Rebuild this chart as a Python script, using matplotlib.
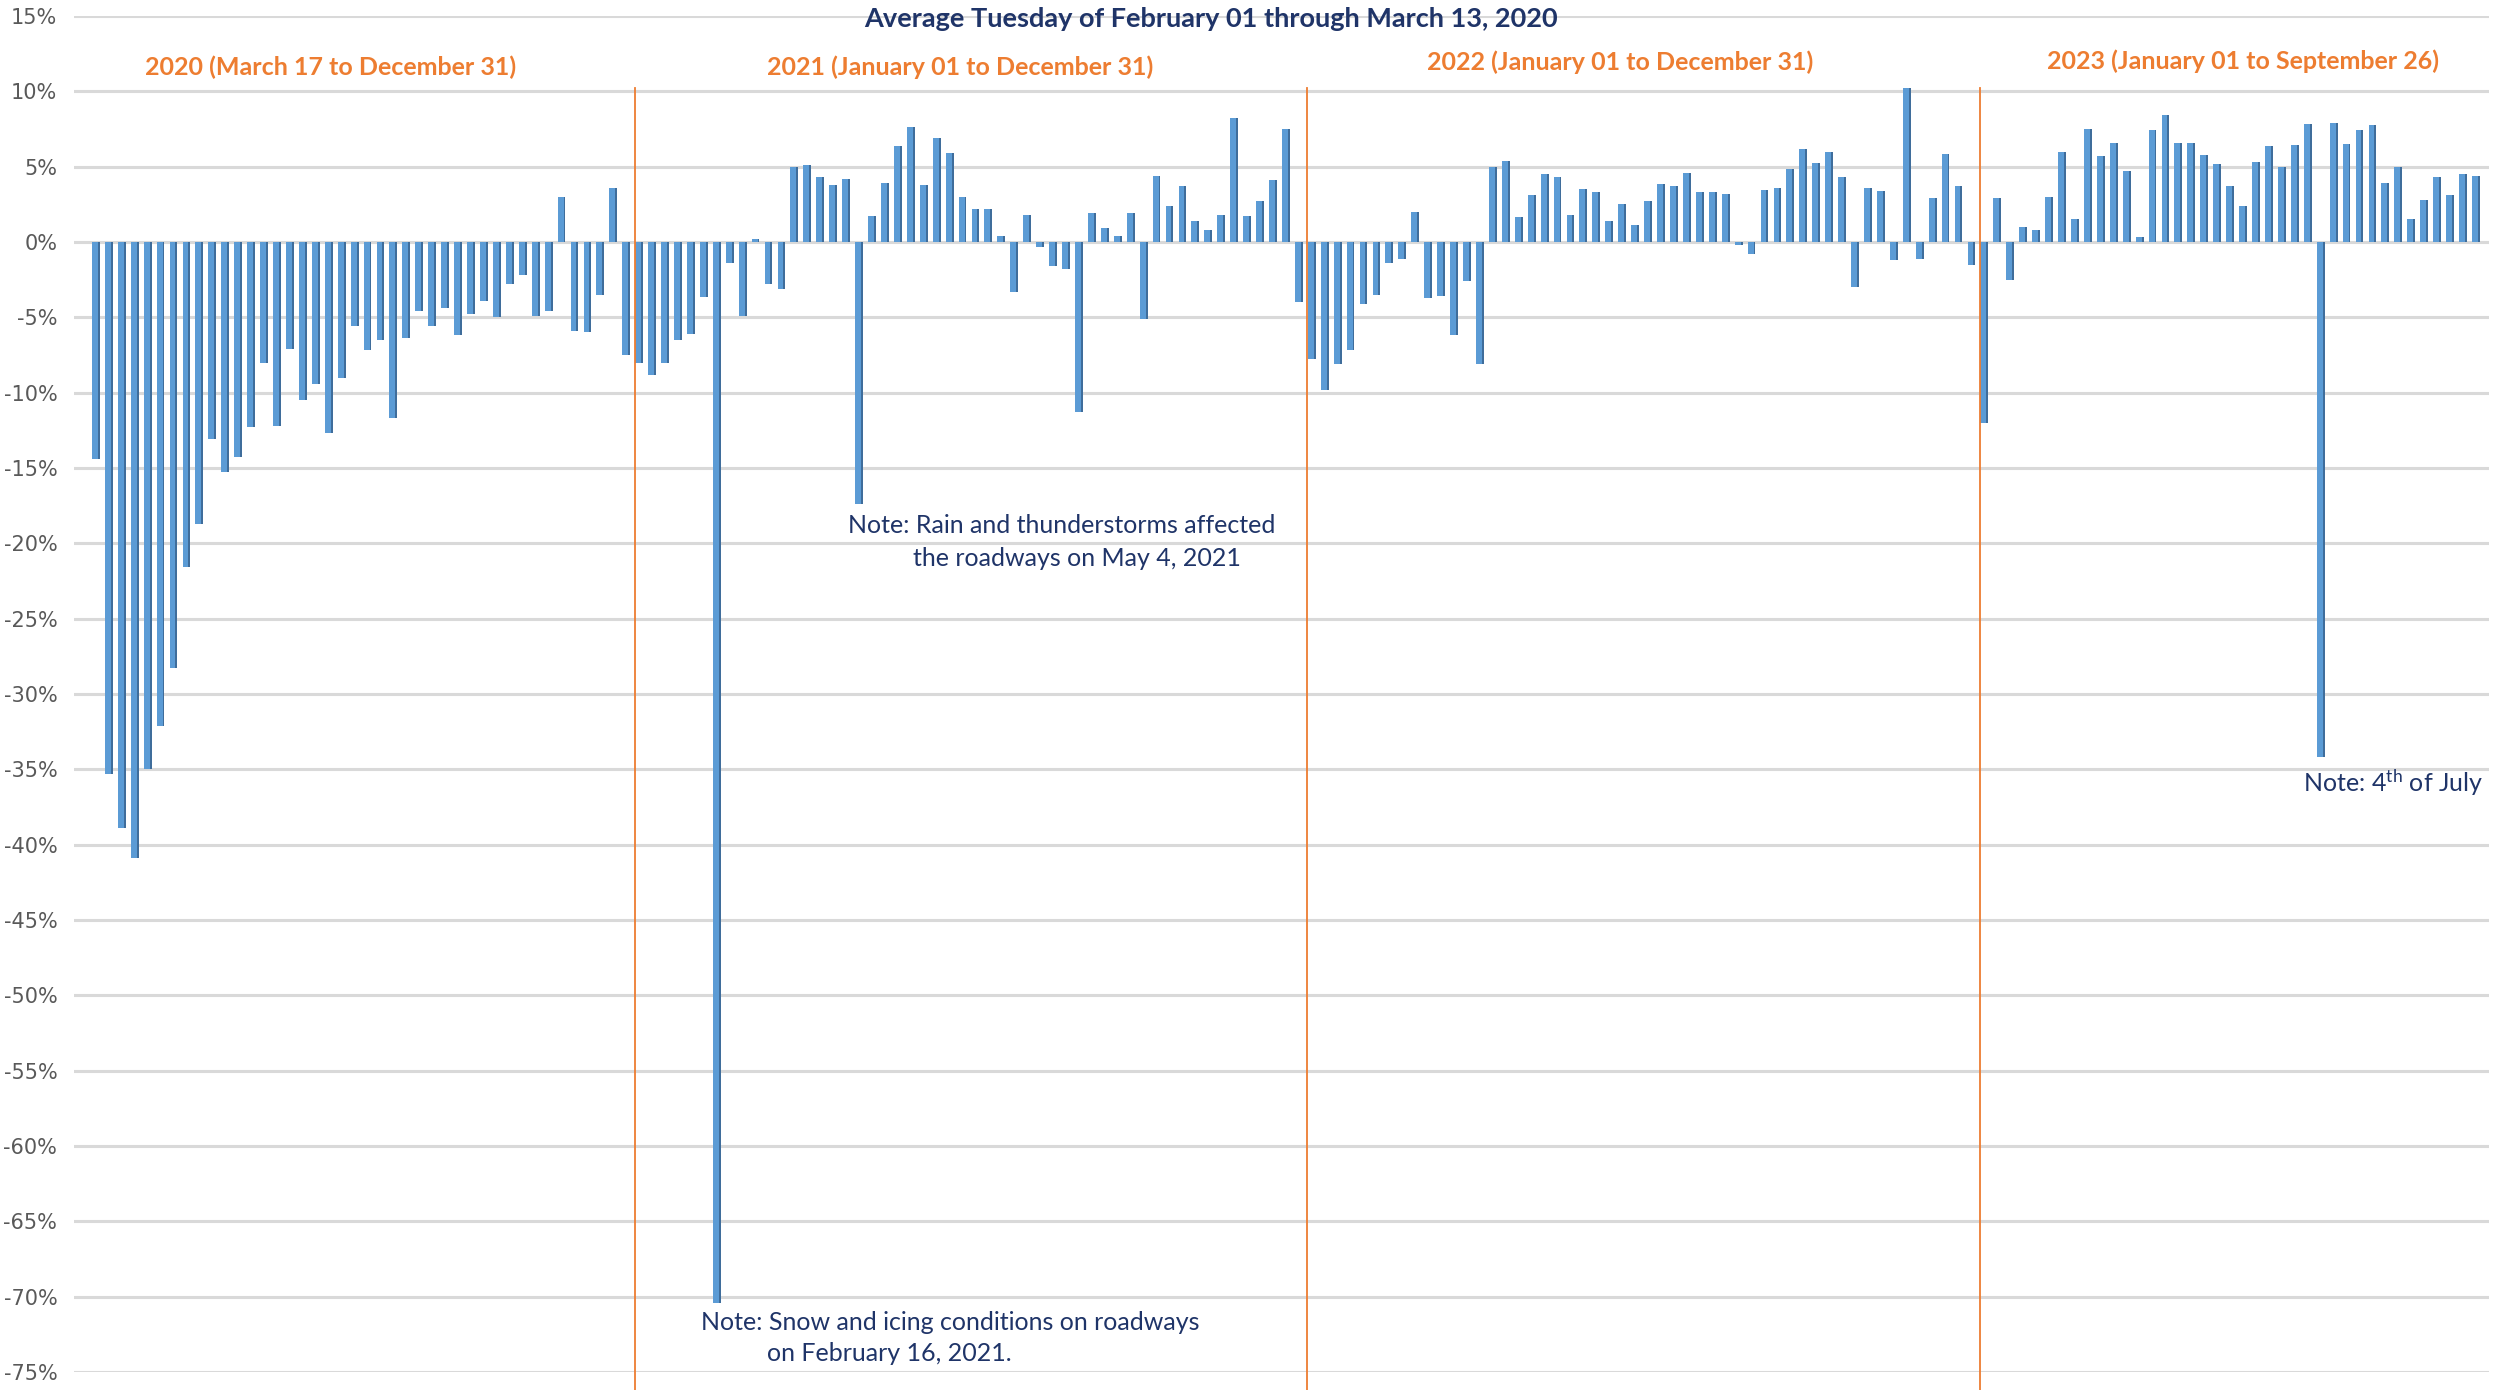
import numpy as np
import matplotlib
matplotlib.use("Agg")
import matplotlib.pyplot as plt

# weekly Tuesday change vs. average Tuesday of Feb 01 - Mar 13, 2020 (%)
vals_2020 = [-14.4, -35.3, -38.9, -40.9, -35.0, -32.1, -28.3, -21.6, -18.7, -13.1,
             -15.3, -14.3, -12.3, -8.0, -12.2, -7.1, -10.5, -9.4, -12.7, -9.0,
             -5.6, -7.2, -6.5, -11.7, -6.4, -4.6, -5.6, -4.4, -6.2, -4.8,
             -3.9, -5.0, -2.8, -2.2, -4.9, -4.6, 3.0, -5.9, -6.0, -3.5,
             3.6, -7.5]
vals_2021 = [-8.0, -8.8, -8.0, -6.5, -6.1, -3.65, -70.4, -1.4, -4.9, 0.2,
             -2.8, -3.1, 5.0, 5.1, 4.3, 3.75, 4.2, -17.4, 1.7, 3.9,
             6.4, 7.6, 3.75, 6.9, 5.9, 3.0, 2.2, 2.2, 0.4, -3.3,
             1.8, -0.35, -1.6, -1.8, -11.3, 1.9, 0.9, 0.4, 1.9, -5.1,
             4.4, 2.4, 3.7, 1.4, 0.8, 1.8, 8.2, 1.7, 2.7, 4.1,
             7.5, -4.0]
vals_2022 = [-7.8, -9.8, -8.1, -7.2, -4.1, -3.5, -1.4, -1.1, 2.0, -3.7,
             -3.6, -6.2, -2.6, -8.1, 5.0, 5.4, 1.65, 3.1, 4.5, 4.3,
             1.8, 3.5, 3.3, 1.4, 2.5, 1.1, 2.75, 3.85, 3.7, 4.6,
             3.35, 3.3, 3.2, -0.2, -0.8, 3.45, 3.6, 4.85, 6.2, 5.25,
             6.0, 4.3, -3.0, 3.6, 3.4, -1.2, 10.2, -1.15, 2.9, 5.85,
             3.7, -1.5]
vals_2023 = [-12.0, 2.9, -2.5, 1.0, 0.8, 3.0, 6.0, 1.5, 7.5, 5.7,
             6.6, 4.7, 0.3, 7.4, 8.4, 6.6, 6.6, 5.8, 5.2, 3.7,
             2.4, 5.3, 6.4, 5.0, 6.45, 7.8, -34.2, 7.9, 6.5, 7.4,
             7.75, 3.9, 5.0, 1.5, 2.8, 4.3, 3.1, 4.5, 4.4]

year_labels = ["2020 (March 17 to December 31)",
               "2021 (January 01 to December 31)",
               "2022 (January 01 to December 31)",
               "2023 (January 01 to September 26)"]
yticks = list(range(-75, 16, 5))

title = "Average Tuesday of February 01 through March 13, 2020"

NAVY = "#1F3468"
ORANGE = "#ED7D31"

values = np.array(vals_2020 + vals_2021 + vals_2022 + vals_2023)
x = np.arange(len(values))
starts = np.cumsum([0, len(vals_2020), len(vals_2021), len(vals_2022)])

fig = plt.figure(figsize=(25.09, 13.90), dpi=100)
ax = fig.add_axes([0.0295, 0.013, 0.9625, 0.9755])

# pseudo 3D column: light front face + darker side strip
ax.bar(x - 0.08, values, width=0.46, color="#5B9BD5", zorder=3)
ax.bar(x + 0.22, values, width=0.15, color="#3F6D9B", zorder=3)

ax.set_xlim(-1.7, 185.0)
ax.set_ylim(-75, 15)
ax.set_yticks(yticks)
ax.set_yticklabels([f"{t}%" for t in yticks], fontsize=15, color="#595959",
                   family="DejaVu Sans")
ax.tick_params(axis="y", length=0, pad=12)
ax.set_xticks([])
ax.grid(axis="y", color="#D9D9D9", linewidth=2.2, zorder=0)
for s in ax.spines.values():
    s.set_visible(False)

# year separators
for s in starts[1:]:
    ax.plot([s - 0.35, s - 0.35], [10.2, -76.5], color=ORANGE, linewidth=1.3,
            clip_on=False, zorder=4)

label_x = [18.1, 66.8, 117.8, 166.0]
label_y = [11.6, 11.6, 11.95, 12.0]
for lx, ly, txt in zip(label_x, label_y, year_labels):
    ax.text(lx, ly, txt, ha="center", va="center", color=ORANGE,
            fontsize=18, fontweight="bold", family="Lato")

ax.text(86.2, 14.8, title, ha="center", va="center", color=NAVY,
        fontsize=19.5, fontweight="bold", family="Lato")

note_kw = dict(color=NAVY, fontsize=18, family="Lato", va="center", ha="left")
ax.text(58.1, -18.8, "Note: Rain and thunderstorms affected", **note_kw)
ax.text(63.2, -21.0, "the roadways on May 4, 2021", **note_kw)
ax.text(46.8, -71.7, "Note: Snow and icing conditions on roadways", **note_kw)
ax.text(51.9, -73.8, "on February 16, 2021.", **note_kw)
plt.rcParams["mathtext.default"] = "regular"
ax.text(184.6, -35.9, r"Note: 4$^{\mathregular{th}}$ of July", color=NAVY,
        fontsize=18, family="Lato", va="center", ha="right")

fig.savefig("out.png", dpi=100)
